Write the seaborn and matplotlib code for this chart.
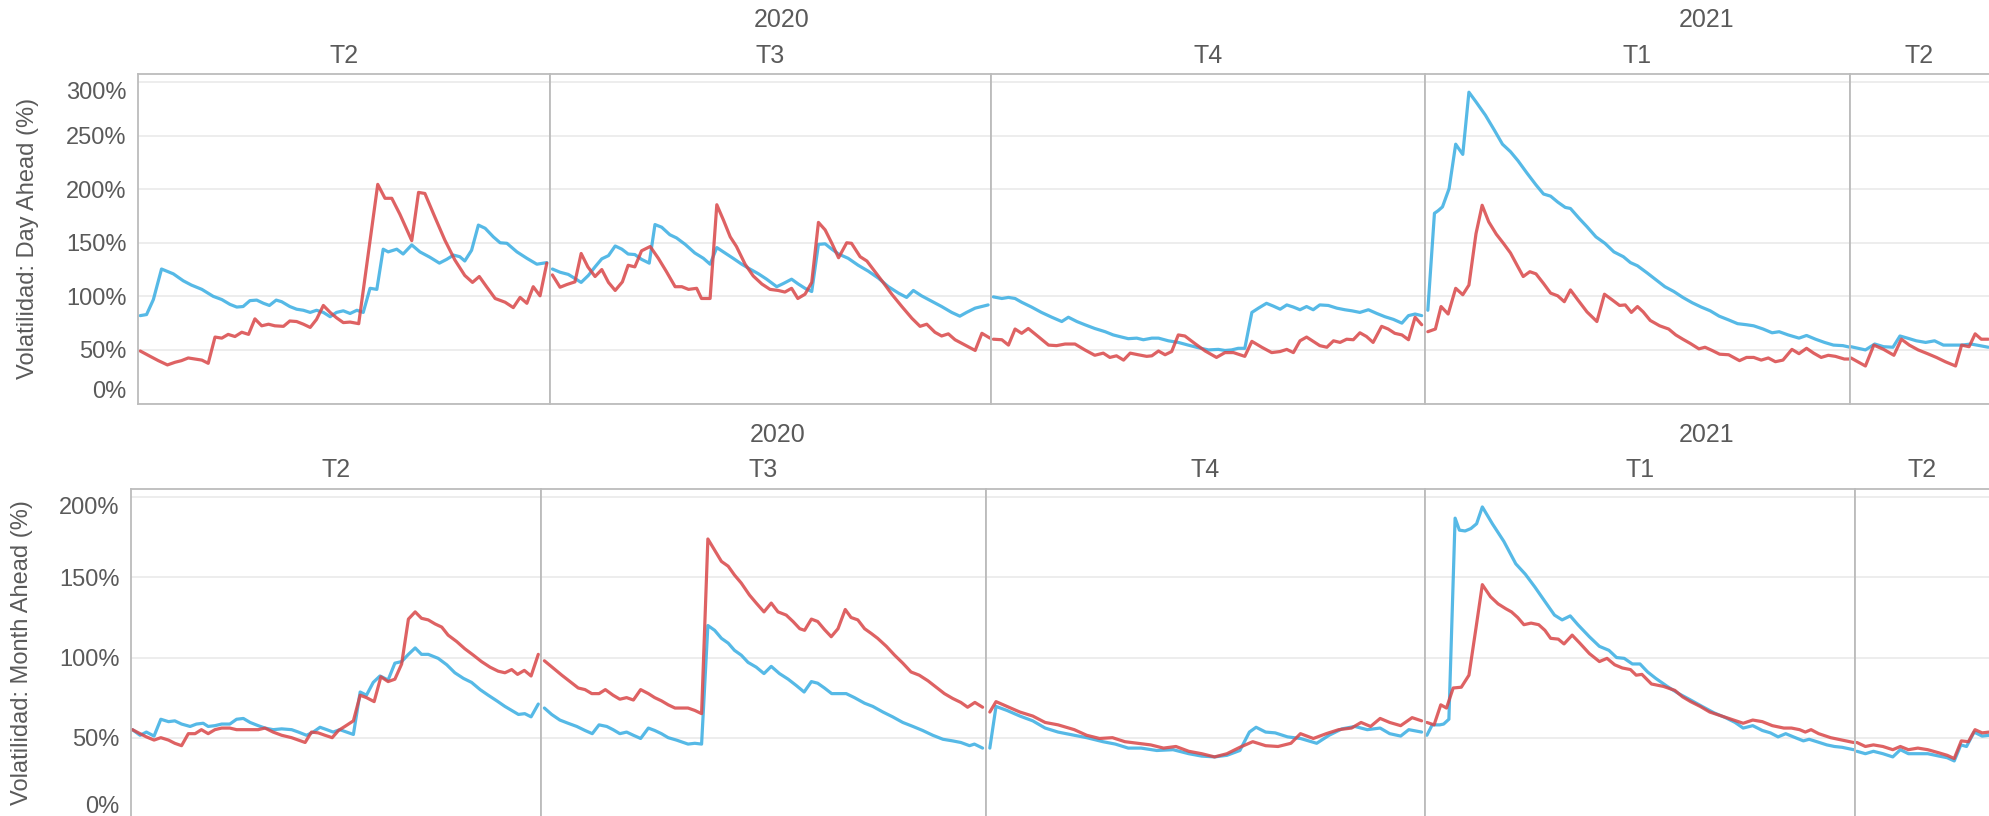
import matplotlib
matplotlib.use("Agg")
import matplotlib.pyplot as plt
import pandas as pd
import seaborn as sns

# --- datos: (dia dentro del trimestre, volatilidad %) ---
anios = ["2020", "2020", "2020", "2021", "2021"]
trimestres = ["T2", "T3", "T4", "T1", "T2"]
dias_trimestre = [91, 92, 92, 90, 91]
series = ["Serie A", "Serie B"]

# Day Ahead
da_2020_t2_a = [(0.6,82),(2.0,83),(3.5,97),(5.3,125.5),(7.9,121),(10.1,114.5),(11.9,110.5),(14.2,106.5),(16.7,100),(18.6,97),(20.4,92.5),(21.9,90),(23.3,90.5),(24.8,96),(26.3,96.5),(27.8,93.5),(29.1,91.5),(30.6,96.5),(31.8,95),(33.6,90.5),(35.1,88),(36.6,87),(38.1,85),(39.5,87),(41.0,85),(42.5,81),(43.9,85),(45.4,86.5),(46.9,84),(48.4,87),(49.8,85),(51.3,107.5),(52.8,106.5),(54.2,144),(55.3,141.5),(57.2,144),(58.6,139.5),(60.5,148),(62.3,141.5),(64.5,136.5),(66.6,131),(68.2,134.5),(69.7,138.5),(71.1,137),(72.2,133),(73.7,143),(75.2,166.5),(76.7,163.5),(78.5,155.5),(80.0,150),(81.5,149.5),(83.7,141.5),(85.9,135.5),(88.1,130),(90.3,131.5)]
da_2020_t2_b = [(0.6,49),(2.8,44),(4.6,40),(6.6,36),(8.3,38.5),(9.7,40),(11.2,42.5),(12.7,41.5),(14.2,40.5),(15.6,37.5),(17.1,62),(18.6,61),(20.0,64.5),(21.5,62.5),(23.0,66.5),(24.5,64.5),(25.9,79),(27.4,72.5),(28.9,74),(30.3,72.5),(32.2,72),(33.6,77),(35.1,76.5),(36.6,74),(38.1,71),(39.5,78.5),(41.0,91.5),(42.5,85),(43.9,80),(45.4,75.5),(46.9,76),(48.8,74.5),(53.0,204.5),(54.6,191.5),(56.1,191.5),(57.9,176.5),(60.5,152),(62.0,197),(63.4,196),(65.6,174),(67.8,152.5),(70.0,134),(72.2,119.5),(73.9,113),(75.4,118.5),(77.0,109),(78.9,98),(81.1,94.5),(82.9,89.5),(84.4,99),(85.9,93.5),(87.3,109),(88.8,100.5),(90.3,131)]
da_2020_t3_a = [(0.5,125.5),(2.1,122.5),(3.8,120.5),(4.9,117.5),(6.5,113),(8.0,119.5),(9.4,127.5),(10.8,135),(12.2,138),(13.6,147),(15.0,144),(16.3,139.5),(17.7,139),(19.1,134.5),(20.7,131),(21.9,167),(23.3,164.5),(25.0,157.5),(26.4,154.5),(28.2,148.5),(30.2,140.5),(32.0,135.5),(33.4,130),(34.8,145.5),(36.5,140.5),(38.2,135.5),(40.0,130),(41.7,125.5),(43.5,121),(45.2,116),(47.3,109),(48.7,112),(50.4,116),(51.8,111.5),(53.2,107.5),(54.6,104.5),(56.0,148.5),(57.4,149),(58.8,144),(60.2,139.5),(62.2,135.5),(64.3,129),(66.4,123.5),(68.5,117),(70.6,109),(72.7,103),(74.4,99),(75.8,105.5),(77.5,100.5),(79.6,95.5),(81.7,90.5),(83.8,85),(85.5,81.5),(86.9,85),(88.7,89),(91.4,92)]
da_2020_t3_b = [(0.5,120),(2.1,108.5),(3.5,111),(5.2,113.5),(6.5,140),(7.9,127.5),(9.4,118.5),(10.8,125),(12.2,113),(13.6,105.5),(15.1,113.5),(16.3,129),(17.7,127.5),(19.1,142.5),(20.9,146.5),(22.6,135.5),(24.3,123),(26.1,109),(27.5,109),(28.9,106.5),(30.6,107.5),(31.6,98),(33.4,98),(34.8,185.5),(36.2,171),(37.6,155.5),(38.9,146.5),(40.7,130),(42.4,119),(44.2,111.5),(45.9,106.5),(47.6,105.5),(49.0,104),(50.4,107.5),(51.7,98),(53.2,102),(54.6,113),(56.0,169),(57.4,162),(58.8,149.5),(60.2,136),(61.9,150),(62.9,149.5),(64.7,137),(66.1,133),(67.8,123),(69.5,113),(71.3,102),(73.4,90.5),(75.5,79.5),(77.2,72),(78.6,74),(80.3,66.5),(81.7,63),(83.1,65),(84.5,59.5),(86.6,54.5),(88.7,49.5),(90.1,65.5),(91.8,61)]
da_2020_t4_a = [(0.5,99.5),(2.3,98),(3.7,99),(5.1,98),(6.5,94.5),(8.6,90),(10.7,85),(12.9,80.5),(15.0,76.5),(16.4,80.5),(18.2,76.5),(19.9,73.5),(22.0,70),(24.2,67),(25.9,64),(27.7,62),(29.1,60.5),(30.9,61),(32.3,59.5),(34.1,61),(35.5,61),(37.6,58.5),(39.7,57),(41.8,54.5),(44.0,52),(46.1,50),(48.2,50.5),(49.6,49.5),(51.0,50),(52.4,51.5),(53.8,51.5),(55.3,85),(56.7,89),(58.4,93.5),(59.8,91),(61.3,88),(62.7,92),(64.1,90),(65.5,87.5),(66.9,90.5),(68.3,87.5),(69.7,92),(71.5,91.5),(73.3,89),(75.0,87.5),(76.5,86.5),(78.2,85),(80.0,87.5),(81.8,84),(83.5,81),(85.3,78.5),(87.1,75),(88.5,82),(89.9,83.5),(91.3,82)]
da_2020_t4_b = [(0.5,60),(2.3,59.5),(3.7,54.5),(5.1,69.5),(6.5,65.5),(7.9,70),(10.0,62.5),(12.2,54.5),(13.9,54),(15.7,55.5),(17.8,55.5),(19.9,50),(22.0,45),(23.8,47),(25.2,43),(26.6,44.5),(28.1,40.5),(29.5,47),(31.2,45.5),(33.0,44),(34.1,44.5),(35.5,49),(36.9,45.5),(38.3,48.5),(39.7,64),(41.1,63),(43.2,56),(45.4,49),(47.8,43),(49.6,47.5),(51.4,47.5),(53.8,44),(55.3,58),(57.4,52.5),(59.5,47.5),(61.3,48.5),(62.7,50.5),(64.1,47.5),(65.5,58.5),(66.9,62),(68.3,58),(69.7,54),(71.2,52.5),(72.6,58.5),(74.0,57),(75.4,60),(76.8,59.5),(78.2,66),(79.6,62.5),(81.0,57),(82.8,72),(84.2,69.5),(85.6,65.5),(87.1,64),(88.5,59.5),(89.9,80.5),(91.3,73.5)]
da_2021_t1_a = [(0.6,87),(2.0,177.5),(2.8,180),(3.7,183.5),(5.1,200.5),(6.5,242),(7.2,237.5),(8.0,232.5),(9.3,290.5),(10.8,281.5),(12.8,269),(14.7,255),(16.4,242),(18.1,235),(19.7,226.5),(21.6,215),(23.5,204),(25.1,195.5),(26.6,193.5),(28.1,188),(29.7,183),(30.8,182),(32.7,172.5),(34.3,165),(36.2,155.5),(38.1,149.5),(40.0,141.5),(42.0,137),(43.5,131.5),(45.0,128.5),(47.0,122),(48.9,115.5),(50.8,109),(52.7,104.5),(54.6,99),(56.6,94),(58.5,90),(60.4,86.5),(62.3,81.5),(64.3,78),(66.2,74.5),(68.1,73.5),(69.6,72.5),(71.6,69.5),(73.5,66),(75.0,67),(76.9,64),(79.2,61),(80.8,63.5),(82.7,60),(84.6,57),(86.5,54.5),(88.5,54),(90.0,52.5)]
da_2021_t1_b = [(0.6,67),(2.2,69.5),(3.4,90.5),(4.9,83.5),(6.5,107.5),(8.0,101.5),(9.3,110.5),(10.8,158.5),(12.1,185),(13.5,169.5),(15.1,158),(16.6,149.5),(18.1,140.5),(19.5,129),(20.8,118.5),(22.2,123),(23.5,121),(25.1,112),(26.6,103),(28.1,100.5),(29.5,95),(30.8,106),(32.4,96.5),(34.3,85.5),(36.4,76.5),(38.0,102),(39.7,96.5),(41.2,91.5),(42.4,92),(43.7,85),(45.0,90.5),(46.2,85.5),(47.7,77.5),(49.7,72.5),(51.6,69.5),(53.1,64),(54.6,60),(56.2,56),(58.0,51),(59.3,52.5),(60.8,49.5),(62.4,46),(64.3,45.5),(66.6,40),(68.1,43),(69.6,43),(71.2,40.5),(72.7,42.5),(74.2,39),(75.8,40.5),(77.7,50.5),(79.2,46.5),(80.8,51.5),(82.3,47),(83.9,43),(85.4,45),(86.9,44),(88.8,41.5),(90.0,41.5)]
da_2021_t2_a = [(0.2,53),(3.3,50),(5.3,55.5),(7.2,53),(9.2,52.5),(10.7,63),(12.3,61),(14.2,58.5),(16.2,57),(18.1,58.5),(20.0,54.5),(22.0,54.5),(23.9,54.5),(25.9,55.5),(27.8,54),(29.6,52.5)]
da_2021_t2_b = [(0.2,42.5),(3.3,35),(5.1,54.5),(7.2,50.5),(9.4,45),(11.0,60),(12.7,54.5),(14.6,50),(16.6,46.5),(18.5,43),(20.4,39),(22.6,35),(23.9,54.5),(25.5,53),(26.8,65),(28.1,60),(29.6,60)]

# Month Ahead
ma_2020_t2_a = [(0.4,55),(2.1,51.5),(3.5,53.5),(5.2,51),(6.7,61.5),(8.4,60),(9.8,60.5),(11.3,58.5),(13.2,57),(14.6,58.5),(16.1,59),(17.2,57),(18.7,57.5),(20.2,58.5),(22.0,58.5),(23.5,61.5),(25.0,62),(26.5,59.5),(28.3,57.5),(29.8,56),(31.6,55),(33.5,55.5),(35.7,55),(37.2,53.5),(39.0,51.5),(40.5,53.5),(42.0,56.5),(43.5,55),(44.9,53.5),(46.4,55),(47.9,53.5),(49.4,52),(50.9,78.5),(52.3,76.5),(53.8,84.5),(55.3,88.5),(57.1,86),(58.6,96.5),(60.1,97.5),(61.6,102),(63.1,106),(64.5,102),(66.0,102),(68.2,99.5),(70.1,95.5),(71.9,90.5),(73.8,87),(75.6,84.5),(77.5,80),(79.3,76.5),(81.2,73),(83.0,69.5),(84.5,67),(86.0,64.5),(87.4,65),(88.8,63),(90.4,71)]
ma_2020_t2_b = [(0.4,55),(2.1,52.5),(3.5,50.5),(5.2,48.5),(6.7,50),(8.4,48.5),(9.8,46.5),(11.3,45),(12.8,52.5),(14.3,52.5),(15.7,55),(17.2,52.5),(18.7,55),(20.2,56),(22.0,56),(23.5,55),(25.0,55),(26.5,55),(28.3,55),(29.8,56),(31.6,53.5),(33.5,51.5),(35.7,50),(37.2,48.5),(38.7,47),(40.1,53.5),(41.6,53),(43.1,51.5),(44.7,50),(46.1,54.5),(47.5,57),(49.4,60.5),(50.9,76.5),(52.3,75),(54.0,72.5),(55.5,88),(57.1,85),(58.6,86.5),(60.1,96),(61.6,124),(63.1,128.5),(64.5,124.5),(66.0,123.5),(67.5,121),(69.0,119),(70.4,114),(72.3,110),(74.1,105.5),(76.0,101.5),(77.8,97.5),(79.7,94),(81.5,91.5),(83.0,90.5),(84.5,92.5),(85.8,89.5),(87.3,92),(88.8,88.5),(90.4,102)]
ma_2020_t3_a = [(0.7,68.5),(2.2,64.5),(3.9,61),(5.6,59),(7.4,57),(9.1,54.5),(10.6,52.5),(12.0,58),(13.6,57),(14.9,55),(16.3,52.5),(17.7,53.5),(19.1,51.5),(20.6,49.5),(22.2,56),(23.5,54.5),(24.9,52.5),(26.3,50),(28.0,48.5),(30.4,46),(31.8,46.5),(33.2,46),(34.5,120),(35.9,117),(37.3,112),(38.7,109),(40.0,104.5),(41.4,101.5),(42.8,97),(44.5,94),(46.1,90),(47.6,94.5),(49.3,90),(51.1,86.5),(52.8,82.5),(54.4,78.5),(55.9,85),(57.2,84),(58.6,81),(60.1,77.5),(61.4,77.5),(63.1,77.5),(64.8,75),(66.9,71.5),(68.6,69.5),(70.7,66),(72.7,63),(74.8,59.5),(76.9,57),(78.9,54.5),(81.0,51.5),(83.1,49),(85.1,48),(86.8,47),(88.6,45),(89.6,46),(91.3,43.5)]
ma_2020_t3_b = [(0.7,98),(2.5,93.5),(4.3,89),(6.0,85),(7.7,81),(9.1,80),(10.5,77.5),(12.0,77.5),(13.3,80),(14.9,76.5),(16.3,74),(17.7,75),(19.1,73.5),(20.6,80),(22.2,77.5),(23.5,75),(24.9,73),(26.3,70.5),(27.7,68.5),(29.0,68.5),(30.4,68.5),(31.8,67),(33.2,65),(34.5,174),(35.9,167),(37.3,160),(38.7,157),(40.0,151.5),(41.4,146.5),(43.1,139),(44.5,134),(46.1,128.5),(47.6,134),(49.0,128.5),(50.7,126.5),(52.1,122.5),(53.5,118),(54.5,117),(55.9,124),(57.2,122.5),(58.6,117.5),(60.0,113),(61.4,118),(62.9,130),(64.1,125),(65.5,123.5),(66.9,118),(68.3,115),(69.6,112),(71.4,107),(73.1,101.5),(74.8,96.5),(76.5,91),(78.2,89),(80.0,85.5),(81.7,81.5),(83.4,77.5),(85.1,74.5),(86.8,72),(88.2,69),(89.7,72),(91.3,69)]
ma_2020_t4_a = [(0.8,43.5),(2.1,69.5),(4.4,67),(7.1,63.5),(9.8,60.5),(12.4,56),(15.1,53.5),(18.5,51.5),(21.1,50),(24.5,47.5),(27.1,46),(29.8,43.5),(32.5,43.5),(35.8,42),(39.2,42.5),(42.5,40),(45.2,38.5),(47.9,38),(50.5,39),(53.2,42),(55.2,53.5),(56.6,56.5),(58.6,53.5),(60.6,53),(63.2,50.5),(65.9,49.5),(69.3,46.5),(71.9,51.5),(74.6,55.5),(77.3,57),(79.9,55),(82.6,56),(84.6,52.5),(86.9,51),(88.6,55),(91.3,53.5)]
ma_2020_t4_b = [(0.8,66),(2.1,72.5),(4.4,69.5),(7.1,66),(9.8,63.5),(12.4,59.5),(15.1,58),(18.5,55),(21.1,51.5),(23.8,49.5),(26.5,50),(29.1,47.5),(31.8,46.5),(34.5,45.5),(37.2,43.5),(39.8,44.5),(42.5,41.5),(45.2,40),(47.9,38),(50.5,40),(53.2,44),(55.9,47.5),(58.6,45),(61.2,44.5),(63.9,46.5),(65.9,52.5),(68.6,49.5),(71.3,52.5),(73.9,55),(76.6,56),(78.6,59.5),(80.6,57),(82.6,62),(84.6,59.5),(86.9,57.5),(89.3,62.5),(91.3,60.5)]
ma_2021_t1_a = [(0.4,51.5),(1.5,58),(3.1,58),(3.9,58.5),(5.0,61.5),(6.3,187),(7.2,179.5),(8.4,179),(9.6,180.5),(10.8,183.5),(12.0,194),(14.1,183.5),(16.5,172.5),(19.0,158.5),(21.0,152),(23.0,144),(25.1,135),(27.1,126.5),(28.7,123.5),(30.4,126),(32.0,120.5),(34.4,113),(36.5,107),(38.5,104.5),(40.1,100),(41.7,99.5),(43.4,96),(45.0,96),(46.6,91),(48.3,87),(50.7,82),(53.1,77.5),(55.6,73.5),(58.0,69.5),(60.5,65.5),(62.9,62.5),(64.9,59.5),(66.6,56),(68.6,57.5),(70.6,54.5),(72.3,53),(73.9,50.5),(75.5,52.5),(77.1,50.5),(79.2,48),(80.4,49),(82.0,47.5),(84.1,45.5),(85.7,44.5),(87.3,44),(89.7,42.5)]
ma_2021_t1_b = [(0.4,59.5),(1.9,58),(3.3,70.5),(4.5,68.5),(5.9,81),(7.6,81.5),(9.2,89),(10.7,119),(12.0,145.5),(13.7,138),(15.3,133.5),(16.9,130.5),(18.1,128.5),(19.4,125),(20.7,120.5),(22.2,121.5),(23.8,120.5),(25.1,117),(26.3,112),(27.9,111.5),(29.1,108.5),(30.8,114),(32.4,109),(34.4,102.5),(36.5,97.5),(38.1,99.5),(39.7,95.5),(41.3,93.5),(43.0,92.5),(44.2,89),(45.4,89.5),(47.4,83.5),(49.9,82),(52.3,79.5),(53.9,75.5),(55.6,72.5),(57.6,69.5),(59.6,66),(62.1,63.5),(64.1,61.5),(66.6,59),(68.6,61),(70.6,60),(72.7,57.5),(75.1,56),(76.7,56),(78.4,55),(79.6,53.5),(80.8,55),(82.4,52.5),(84.9,50),(87.3,48.5),(89.7,47)]
ma_2021_t2_a = [(0.4,41.5),(2.2,40),(3.9,41.5),(5.9,40),(8.0,38),(9.6,42.5),(11.3,40),(13.3,40),(15.4,40),(17.8,38.5),(19.5,37.5),(21.0,35.5),(22.4,45.5),(23.6,44.5),(25.2,53.5),(26.9,51),(28.4,51.5)]
ma_2021_t2_b = [(0.4,47),(2.2,44.5),(3.9,45.5),(5.9,44.5),(8.0,42.5),(9.6,44.5),(11.3,42.5),(13.3,43.5),(15.4,42.5),(17.8,40.5),(19.5,39),(21.0,37),(22.5,48),(24.0,47.5),(25.4,55),(26.9,53),(28.4,53.5)]

paneles = {
    "Day Ahead": [(da_2020_t2_a, da_2020_t2_b), (da_2020_t3_a, da_2020_t3_b), (da_2020_t4_a, da_2020_t4_b),
                  (da_2021_t1_a, da_2021_t1_b), (da_2021_t2_a, da_2021_t2_b)],
    "Month Ahead": [(ma_2020_t2_a, ma_2020_t2_b), (ma_2020_t3_a, ma_2020_t3_b), (ma_2020_t4_a, ma_2020_t4_b),
                    (ma_2021_t1_a, ma_2021_t1_b), (ma_2021_t2_a, ma_2021_t2_b)],
}

filas = []
for fila, lista in paneles.items():
    for i, par in enumerate(lista):
        for serie, puntos in zip(series, par):
            for dia, valor in puntos:
                filas.append((fila, i, serie, dia, valor))
df = pd.DataFrame(filas, columns=["fila", "trim", "serie", "dia", "valor"])

# --- estilo ---
sns.set_style("white")
plt.rcParams["font.family"] = ["Liberation Sans", "DejaVu Sans"]
colores = ["#38ADE2", "#D94648"]
gris_texto = "#5a5a5a"

W, H = 1989, 816
fig = plt.figure(figsize=(W / 100, H / 100), dpi=100)
fig.patch.set_facecolor("white")

layout = [
    dict(fila="Day Ahead", top=74, bottom=403.5, x0=137.5, anchos=[412.5, 441, 434, 425, 425],
         ymax=307.5, yticks=list(range(0, 301, 50)), label_x=28, q_y=56, y_y=20),
    dict(fila="Month Ahead", top=489.3, bottom=817.8, x0=130.6, anchos=[410.4, 445, 439, 430, 430],
         ymax=205, yticks=list(range(0, 201, 50)), label_x=22, q_y=470, y_y=435),
]

for cfg in layout:
    izq = cfg["x0"]
    bordes = []
    for i, ancho in enumerate(cfg["anchos"]):
        ax = fig.add_axes([izq / W, 1 - cfg["bottom"] / H, ancho / W, (cfg["bottom"] - cfg["top"]) / H])
        sub = df[(df["fila"] == cfg["fila"]) & (df["trim"] == i)]
        sns.lineplot(data=sub, x="dia", y="valor", hue="serie", hue_order=series, palette=colores,
                     legend=False, ax=ax, lw=2.3, alpha=0.85, estimator=None, sort=False)
        ax.set_xlim(0, dias_trimestre[i])
        ax.set_ylim(0, cfg["ymax"])
        ax.set_xticks([])
        ax.set_xlabel("")
        ax.set_ylabel("")
        ax.set_yticks(cfg["yticks"])
        ax.grid(axis="y", color="#ececec", lw=1.3)
        ax.set_axisbelow(True)
        ax.tick_params(axis="y", length=0, pad=8, labelsize=17, labelcolor=gris_texto)
        for s in ax.spines.values():
            s.set_color("#bcbcbc")
            s.set_linewidth(1.3)
        if i == 0:
            ax.set_yticklabels([f"{v}%" for v in cfg["yticks"]])
            etiquetas = ax.get_yticklabels()
            etiquetas[0].set_va("bottom")
            etiquetas[-1].set_va("top")
        else:
            ax.tick_params(labelleft=False)
        bordes.append((izq, izq + ancho))
        # cabecera de trimestre, centrada en la parte visible
        a, b = max(izq, 0), min(izq + ancho, W)
        fig.text((a + b) / 2 / W, 1 - cfg["q_y"] / H, trimestres[i], ha="center", va="center",
                 fontsize=18, color=gris_texto)
        izq += ancho
    # cabecera de año
    for anio in sorted(set(anios)):
        idx = [k for k, y in enumerate(anios) if y == anio]
        a = bordes[idx[0]][0]
        b = min(bordes[idx[-1]][1], W)
        fig.text((a + b) / 2 / W, 1 - cfg["y_y"] / H, anio, ha="center", va="center",
                 fontsize=18, color=gris_texto)
    centro = (cfg["top"] + min(cfg["bottom"], H)) / 2
    fig.text(cfg["label_x"] / W, 1 - centro / H, f"Volatilidad: {cfg['fila']} (%)", rotation=90,
             ha="center", va="center", fontsize=17, color=gris_texto)

fig.savefig("out.png", dpi=100, facecolor="white")
